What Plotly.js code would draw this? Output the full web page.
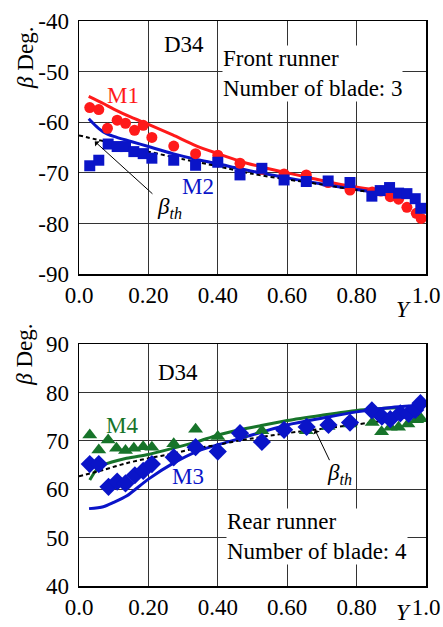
<!DOCTYPE html>
<html>
<head>
<meta charset="utf-8">
<script src="https://cdn.plot.ly/plotly-3.0.1.min.js"></script>
<style>html,body{margin:0;padding:0;background:#fff;}#chart{width:443px;height:627px;}</style>
</head>
<body>
<div id="chart"></div>
<script>
// ---------- Top panel: Front runner ----------
const expX1 = [0.031,0.057,0.082,0.110,0.134,0.160,0.185,0.210,0.273,0.336,0.400,0.464,0.527,0.591,0.655,0.718,0.781,0.845,0.870,0.897,0.921,0.945,0.972,0.986];
const m1Exp = [-57.1,-57.5,-61.2,-59.6,-60.2,-61.6,-60.6,-63.0,-64.7,-66.2,-66.5,-68.1,-69.3,-70.2,-70.4,-71.9,-73.4,-73.8,-73.6,-74.7,-75.2,-76.8,-78.0,-79.0];
const m2ExpX = [0.031,0.057,0.084,0.110,0.134,0.158,0.185,0.210,0.273,0.336,0.400,0.464,0.527,0.591,0.655,0.718,0.781,0.844,0.868,0.895,0.921,0.945,0.969,0.985];
const m2Exp = [-68.6,-67.5,-64.3,-64.8,-64.8,-65.8,-66.2,-67.1,-67.5,-68.5,-67.9,-70.4,-69.1,-71.4,-71.7,-71.6,-71.9,-74.6,-73.5,-72.9,-74.0,-74.1,-75.1,-77.0];
const m1LineX = [0.028,0.07,0.10,0.15,0.20,0.27,0.336,0.40,0.464,0.53,0.60,0.655,0.718,0.78,0.848];
const m1Line  = [-54.9,-56.3,-57.4,-59.0,-60.4,-62.5,-64.6,-66.2,-67.7,-68.9,-70.0,-70.8,-71.8,-72.6,-73.3];
const m2LineX = [0.028,0.05,0.07,0.10,0.15,0.20,0.27,0.336,0.40,0.464,0.53,0.60,0.70,0.80,0.86];
const m2Line  = [-59.3,-60.8,-61.9,-62.8,-63.8,-64.8,-66.2,-67.3,-68.2,-69.2,-70.1,-71.0,-72.2,-73.3,-73.9];
const thTopX = [0,0.05,0.10,0.20,0.30,0.40,0.50,0.60,0.70,0.78,0.84];
const thTop  = [-62.6,-63.4,-64.2,-65.8,-67.3,-68.7,-70.2,-71.3,-72.3,-73.2,-73.8];

// ---------- Bottom panel: Rear runner ----------
const m3ExpX = [0.031,0.057,0.085,0.110,0.134,0.161,0.185,0.210,0.273,0.336,0.400,0.464,0.527,0.591,0.656,0.719,0.781,0.844,0.873,0.897,0.926,0.950,0.969,0.984];
const m3Exp  = [65.2,65.2,60.5,61.6,61.2,62.9,63.8,65.2,66.6,68.7,67.8,71.6,69.8,72.3,72.9,73.3,73.8,76.3,75.0,74.5,75.7,75.6,76.4,77.8];
const m4ExpX = [0.031,0.057,0.084,0.108,0.134,0.158,0.185,0.210,0.273,0.336,0.400,0.466,0.527,0.590,0.655,0.718,0.781,0.845,0.872,0.897,0.921,0.948,0.973,0.986];
const m4Exp  = [71.2,68.1,70.2,68.5,68.0,68.5,68.8,68.7,69.4,72.4,70.9,71.6,72.1,72.6,72.1,73.0,73.5,73.8,71.9,72.8,72.8,73.5,74.4,74.6];
const m3LineX = [0.029,0.07,0.10,0.137,0.20,0.272,0.339,0.40,0.464,0.60,0.70,0.80,0.90,0.97,0.99];
const m3Line  = [56.0,56.4,57.3,58.6,62.1,65.4,67.8,69.2,70.5,73.3,74.7,76.0,76.9,77.3,77.4];
const m4LineX = [0.031,0.05,0.07,0.137,0.20,0.272,0.339,0.40,0.464,0.52,0.60,0.70,0.80,0.85,0.93];
const m4Line  = [61.9,64.0,65.0,66.4,67.2,68.5,69.8,71.2,72.3,73.1,74.2,75.3,76.3,76.6,76.9];
const thBotX = [0,0.07,0.137,0.20,0.272,0.339,0.40,0.464,0.60,0.70,0.80,0.90,0.985];
const thBot  = [62.7,64.0,65.4,66.4,67.4,68.5,69.2,70.1,71.6,72.5,73.4,74.4,75.4];

// ---------- Ticks ----------
const xTickVals = [0,0.2,0.4,0.6,0.8,1.0];
const xTickText = ['0.0','0.20','0.40','0.60','0.80','1.0'];
const yTopTicks = [-90,-80,-70,-60,-50,-40];
const yTopText  = ['-90','-80','-70','-60','-50','-40'];
const yBotTicks = [40,50,60,70,80,90];
const yBotText  = ['40','50','60','70','80','90'];

const RED = '#ff1a1a', BLUE = '#0a14c8', GREEN = '#17742a';
const FONT = '"Liberation Serif", "Times New Roman", Times, serif';
const FS = 23;

const traces = [
  {x: m1LineX, y: m1Line, mode: 'lines', line: {color: RED, width: 3, shape: 'spline', smoothing: 0.8}, xaxis: 'x', yaxis: 'y'},
  {x: m2LineX, y: m2Line, mode: 'lines', line: {color: BLUE, width: 3, shape: 'spline', smoothing: 0.8}, xaxis: 'x', yaxis: 'y'},
  {x: thTopX, y: thTop, mode: 'lines', line: {color: '#000', width: 2, dash: '4px,3px', shape: 'spline', smoothing: 0.8}, xaxis: 'x', yaxis: 'y'},
  {x: expX1, y: m1Exp, mode: 'markers', marker: {symbol: 'circle', size: 11, color: RED}, xaxis: 'x', yaxis: 'y'},
  {x: m2ExpX, y: m2Exp, mode: 'markers', marker: {symbol: 'square', size: 11, color: BLUE}, xaxis: 'x', yaxis: 'y'},

  {x: m4LineX, y: m4Line, mode: 'lines', line: {color: GREEN, width: 3, shape: 'spline', smoothing: 0.8}, xaxis: 'x2', yaxis: 'y2'},
  {x: m3LineX, y: m3Line, mode: 'lines', line: {color: BLUE, width: 3, shape: 'spline', smoothing: 0.8}, xaxis: 'x2', yaxis: 'y2'},
  {x: thBotX, y: thBot, mode: 'lines', line: {color: '#000', width: 2, dash: '4px,3px', shape: 'spline', smoothing: 0.8}, xaxis: 'x2', yaxis: 'y2'},
  {x: m4ExpX, y: m4Exp, mode: 'markers', marker: {symbol: 'triangle-up', size: 13, color: GREEN}, xaxis: 'x2', yaxis: 'y2'},
  {x: m3ExpX, y: m3Exp, mode: 'markers', marker: {symbol: 'diamond', size: 14, color: BLUE}, xaxis: 'x2', yaxis: 'y2'}
];

const axisCommon = {
  showline: true, mirror: true, linecolor: '#000', linewidth: 1.5,
  showgrid: true, gridcolor: '#333', gridwidth: 1, zeroline: false,
  ticks: '', tickfont: {family: FONT, size: FS, color: '#000'}
};

const ann = (x, y, text, color, extra) => Object.assign({
  x: x, y: y, xref: 'x', yref: 'y', text: text, showarrow: false,
  xanchor: 'center', yanchor: 'middle',
  font: {family: FONT, size: FS, color: color}
}, extra || {});

const layout = {
  width: 443, height: 627,
  margin: {l: 79, r: 17, t: 21, b: 41},
  font: {family: FONT, size: FS, color: '#000'},
  paper_bgcolor: '#fff', plot_bgcolor: '#fff',
  showlegend: false,
  xaxis: Object.assign({}, axisCommon, {domain: [0,1], anchor: 'y', range: [0,1], tickvals: xTickVals, ticktext: xTickText}),
  yaxis: Object.assign({}, axisCommon, {domain: [0.552,1], anchor: 'x', range: [-90,-40], tickvals: yTopTicks, ticktext: yTopText, ticklabelstandoff: 4}),
  xaxis2: Object.assign({}, axisCommon, {domain: [0,1], anchor: 'y2', range: [0,1], tickvals: xTickVals, ticktext: xTickText}),
  yaxis2: Object.assign({}, axisCommon, {domain: [0,0.428], anchor: 'x2', range: [40,90], tickvals: yBotTicks, ticktext: yBotText, ticklabelstandoff: 4}),
  annotations: [
    ann(0.303, -44.6, 'D34', '#000'),
    ann(0.413, -50.4, 'Front runner<br>Number of blade: 3', '#000', {xanchor: 'left', align: 'left', bgcolor: '#fff', borderpad: 0}),
    ann(0.126, -54.7, 'M1', RED),
    ann(0.343, -72.6, 'M2', BLUE),
    ann(0.262, -76.9, '<i>β</i><sub><i>th</i></sub>', '#000'),
    {x: 0.0456, y: -63.8, ax: 0.216, ay: -74.4, xref: 'x', yref: 'y', axref: 'x', ayref: 'y', text: '', showarrow: true, arrowhead: 1, arrowsize: 1.2, arrowwidth: 1, arrowcolor: '#000'},

    ann(0.286, 84.2, 'D34', '#000', {xref: 'x2', yref: 'y2'}),
    ann(0.4235, 50.2, 'Rear runner<br>Number of blade: 4', '#000', {xref: 'x2', yref: 'y2', xanchor: 'left', align: 'left', bgcolor: '#fff', borderpad: 0}),
    ann(0.124, 73.1, 'M4', GREEN, {xref: 'x2', yref: 'y2'}),
    ann(0.315, 62.7, 'M3', BLUE, {xref: 'x2', yref: 'y2'}),
    ann(0.752, 63.1, '<i>β</i><sub><i>th</i></sub>', '#000', {xref: 'x2', yref: 'y2'}),
    {x: 0.680, y: 72.3, ax: 0.724, ay: 65.7, xref: 'x2', yref: 'y2', axref: 'x2', ayref: 'y2', text: '', showarrow: true, arrowhead: 1, arrowsize: 1.2, arrowwidth: 1, arrowcolor: '#000'},

    ann(0.934, 0.4885, '<i>Y</i>', '#000', {xref: 'paper', yref: 'paper'}),
    ann(0.934, -0.047, '<i>Y</i>', '#000', {xref: 'paper', yref: 'paper'}),
    ann(-0.156, 0.9345, '<i>β</i> Deg.', '#000', {xref: 'paper', yref: 'paper', textangle: -90}),
    ann(-0.156, 0.409, '<i>β</i> Deg.', '#000', {xref: 'paper', yref: 'paper', textangle: -90})
  ]
};

Plotly.newPlot('chart', traces, layout, {displayModeBar: false, staticPlot: true});
</script>
</body>
</html>
